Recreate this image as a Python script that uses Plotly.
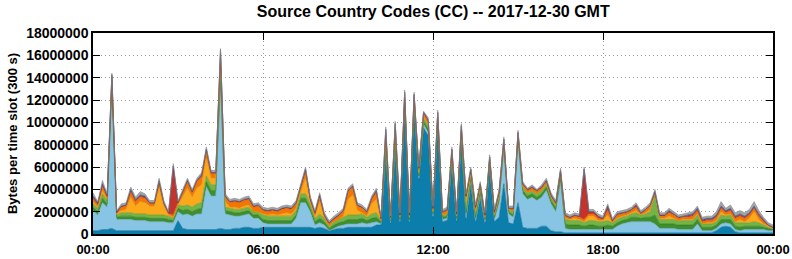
import pandas as pd
import plotly.graph_objects as go

# values in units of 100 000 bytes per 300 s slot, sampled every 10 minutes (00:00 .. 24:00)
times = pd.date_range("2017-12-30 00:00", "2017-12-31 00:00", freq="10min")

dark_blue = [3,3,4,4,5,3, 3,3,3,3,3,3, 3,3,3,3,3,3, 12,5,4,4,4,4, 4,4,4,5,4,4, 5,5,6,6,5,5,
             6,6,6,6,6,6, 6,6,6,6,6,5, 6,5,3,4,5,5, 6,6,6,6,6,6, 8,8,70,9,75,10, 112,10,110,48,95,88,
             14,95,11,12,62,10, 82,12,44,10,32,9, 58,11,15,45,10,9, 28,6,5,5,5,7, 7,3,2,2,1,1, 1,1,1,1,1,1,
             1,1,1,1,1,1, 1,1,1,1,1,1, 1,1,1,1,1,1, 1,1,1,1,1,1, 3,6,7,6,2,1, 1,1,1,1,1,1, 1]
light_blue = [18,14,24,20,125,10, 10,10,10,9,9,9, 8,8,8,8,7,7, 8,12,14,12,14,14, 38,30,30,130,14,13, 11,11,11,12,9,9,
              4,3,3,3,3,3, 3,8,22,22,14,3, 4,3,0,1,2,3, 3,3,3,4,3,4, 3,1,3,1,3,1, 3,1,3,2,3,3,
              2,3,2,2,3,2, 3,3,3,2,3,2, 3,2,13,32,8,6, 55,30,26,28,25,26, 32,24,18,45,4,3, 3,3,3,3,3,3,
              3,3,3,6,8,9, 10,10,10,10,10,8, 4,4,4,4,3,3, 3,3,8,2,2,2, 2,3,3,3,2,2, 3,3,3,3,3,2, 2]
green_dark = [3,3,4,3,4,2, 3,3,3,3,3,3, 3,3,3,3,3,2, 3,4,4,4,4,5, 5,5,5,8,3,3, 3,3,3,3,3,3,
              3,3,3,3,3,3, 3,3,4,4,3,3, 4,3,2,3,3,3, 4,4,4,4,3,4, 4,2,4,2,4,2, 3,2,3,2,3,3,
              2,3,2,2,3,2, 3,4,3,3,3,2, 3,2,3,2,2,2, 3,3,3,3,3,3, 3,3,3,4,4,4, 4,4,3,4,4,3,
              3,4,3,3,3,3, 4,4,3,4,4,8, 4,4,4,4,4,4, 4,4,4,3,3,3, 3,4,3,4,3,3, 3,3,3,3,2,2, 1]
green_light = [3,3,4,3,3,2, 3,3,3,3,3,3, 3,3,3,3,3,2, 3,4,4,4,5,5, 5,5,5,8,3,3, 3,3,3,3,3,3,
               4,4,4,4,4,4, 4,4,4,4,4,3, 4,3,2,3,3,4, 4,4,4,4,3,4, 4,1,4,1,4,2, 3,2,3,2,3,3,
               2,3,2,2,3,2, 3,4,3,3,3,2, 3,2,3,2,2,3, 2,3,3,3,3,3, 3,3,3,4,4,4, 4,4,3,4,4,4,
               4,4,3,3,3,3, 3,4,3,3,5,18, 4,4,4,4,4,4, 4,4,4,3,3,3, 3,4,3,4,3,4, 3,3,4,3,2,1, 1]
yellow = [2,1,3,1,1,1, 2,3,14,7,11,10, 8,8,24,8,1,1, 0,8,15,9,14,16, 16,6,6,6,5,1, 2,1,2,2,0,0,
          1,1,2,1,2,3, 2,2,2,14,1,1, 11,0,0,0,0,1, 14,18,4,1,1,9, 12,0,6,0,7,0, 2,0,2,1,1,1,
          0,1,0,0,1,0, 1,6,1,2,1,0, 0,0,0,1,0,0, 0,0,0,0,0,0, 0,0,0,0,1,1, 2,1,1,4,4,1,
          1,5,0,1,1,1, 1,2,0,1,2,1, 1,1,3,1,0,1, 1,1,1,0,1,1, 1,3,1,1,1,3, 1,4,9,3,1,1, 0]
orange = [3,2,4,2,3,1, 3,3,5,4,4,4, 2,2,5,2,1,2, 2,4,6,4,6,7, 7,4,4,5,4,4, 5,5,5,5,4,5,
          3,3,3,3,4,4, 4,4,4,6,3,3, 4,2,2,2,3,4, 7,7,4,4,3,4, 6,1,4,1,4,1, 3,1,3,3,3,3,
          2,3,2,3,3,1, 4,4,3,3,3,1, 2,2,3,2,1,2, 2,2,2,2,2,2, 2,1,1,1,2,1, 2,2,2,2,2,2,
          1,4,1,3,2,2, 2,3,1,2,3,1, 2,2,3,3,2,2, 2,3,3,2,2,2, 3,3,2,3,3,3, 3,3,3,3,2,1, 1]
red = [1,1,1,1,1,0, 1,1,1,1,1,1, 1,1,1,1,1,44, 0,1,1,1,1,1, 1,1,1,2,1,1, 1,1,1,1,1,1,
       1,1,1,1,1,1, 1,1,1,2,1,1, 2,1,1,1,1,1, 1,1,1,1,1,1, 2,1,2,1,2,1, 1,1,1,1,1,1,
       1,1,1,1,1,1, 1,1,1,1,0,1, 0,1,1,1,0,1, 1,1,1,1,1,1, 1,1,1,1,1,1, 1,1,45,2,2,2,
       1,4,1,1,1,1, 1,2,1,1,1,1, 1,1,1,1,1,1, 1,1,1,1,1,1, 1,1,1,1,1,1, 1,1,1,1,1,0, 0]
blue = [1,1,1,1,1,1, 0,0,1,1,1,1, 0,0,1,0,0,0, 0,0,0,0,0,1, 0,0,0,1,0,0, 0,0,0,0,0,0,
        0,0,0,0,0,0, 0,0,0,0,0,0, 0,0,0,0,0,0, 0,0,0,0,0,0, 0,0,1,0,0,0, 0,0,0,0,0,0,
        0,0,0,0,0,0, 0,0,0,0,0,0, 0,0,0,0,0,0, 0,0,0,0,0,0, 0,0,0,0,0,0, 0,0,0,0,0,0,
        0,0,0,0,0,0, 0,0,0,0,0,0, 0,0,1,0,0,0, 1,1,1,1,1,1, 1,1,1,1,1,1, 1,1,1,1,1,0, 0]
gray = [3,1,3,1,1,1, 2,2,2,2,3,2, 2,2,2,2,1,2, 2,2,2,2,2,2, 2,2,2,1,2,2, 2,2,2,2,2,2,
        2,2,2,2,2,2, 2,2,2,2,2,2, 2,2,2,2,2,2, 2,2,2,2,2,2, 2,1,2,1,2,2, 2,2,2,1,1,2,
        2,2,2,2,2,2, 2,2,2,2,2,2, 2,2,2,2,2,2, 2,2,1,2,1,2, 2,2,2,2,2,2, 2,2,2,2,2,2,
        2,2,2,2,2,2, 2,2,2,2,2,2, 2,2,2,2,2,2, 2,2,2,2,2,2, 3,4,2,3,3,3, 3,3,4,3,2,2, 2]

layers = [
    ("dark blue", dark_blue, "#0c7eac", "#0a6a91"),
    ("light blue", light_blue, "#88c4e4", "#6fa9c8"),
    ("dark green", green_dark, "#3d8f2d", "#2f7622"),
    ("light green", green_light, "#74b447", "#5e9a37"),
    ("yellow", yellow, "#fba81b", "#e09312"),
    ("orange", orange, "#f27600", "#d26400"),
    ("red", red, "#c4342a", "#a52a22"),
    ("blue", blue, "#3c5da6", "#2f4c8c"),
    ("gray", gray, "#a4a4a4", "#8a8a8a"),
]

UNIT = 100000
fig = go.Figure()
for name, vals, fill, edge in layers:
    fig.add_trace(go.Scatter(
        x=times, y=[v * UNIT for v in vals], name=name, mode="lines",
        stackgroup="one", fillcolor=fill, line=dict(color=edge, width=0.6),
        hoverinfo="skip", showlegend=False,
    ))

fig.update_layout(
    width=792, height=259,
    margin=dict(l=93, r=19, t=33, b=25, autoexpand=False),
    paper_bgcolor="white", plot_bgcolor="white",
    font=dict(family="Liberation Sans, Arial, sans-serif", color="black"),
    title=dict(text="<b>Source Country Codes (CC) -- 2017-12-30 GMT</b>",
               x=0.547, xanchor="center", y=0.955, yanchor="middle",
               font=dict(size=16, color="black")),
)
fig.update_xaxes(
    range=[times[0], times[-1]], type="date", automargin=False,
    tickvals=[times[0], times[36], times[72], times[108], times[144]],
    ticktext=["00:00", "06:00", "12:00", "18:00", "00:00"],
    ticks="inside", ticklen=7, tickcolor="black", mirror="ticks",
    showline=True, linecolor="black", linewidth=1.5,
    showgrid=True, gridcolor="#9a9a9a", griddash="1px,3px", gridwidth=1,
    tickfont=dict(size=13, weight="bold"), zeroline=False,
    ticklabelstandoff=3,
)
fig.update_yaxes(
    range=[0, 18000000], tickvals=list(range(0, 18000001, 2000000)),
    tickformat="d", automargin=False,
    ticks="inside", ticklen=7, tickcolor="black", mirror="ticks",
    showline=True, linecolor="black", linewidth=1.5,
    showgrid=True, gridcolor="#9a9a9a", griddash="1px,3px", gridwidth=1,
    tickfont=dict(size=14, weight="bold"), zeroline=False,
    title=dict(text="<b>Bytes per time slot (300 s)</b>", font=dict(size=13), standoff=6),
)

fig.write_html("out.html")
